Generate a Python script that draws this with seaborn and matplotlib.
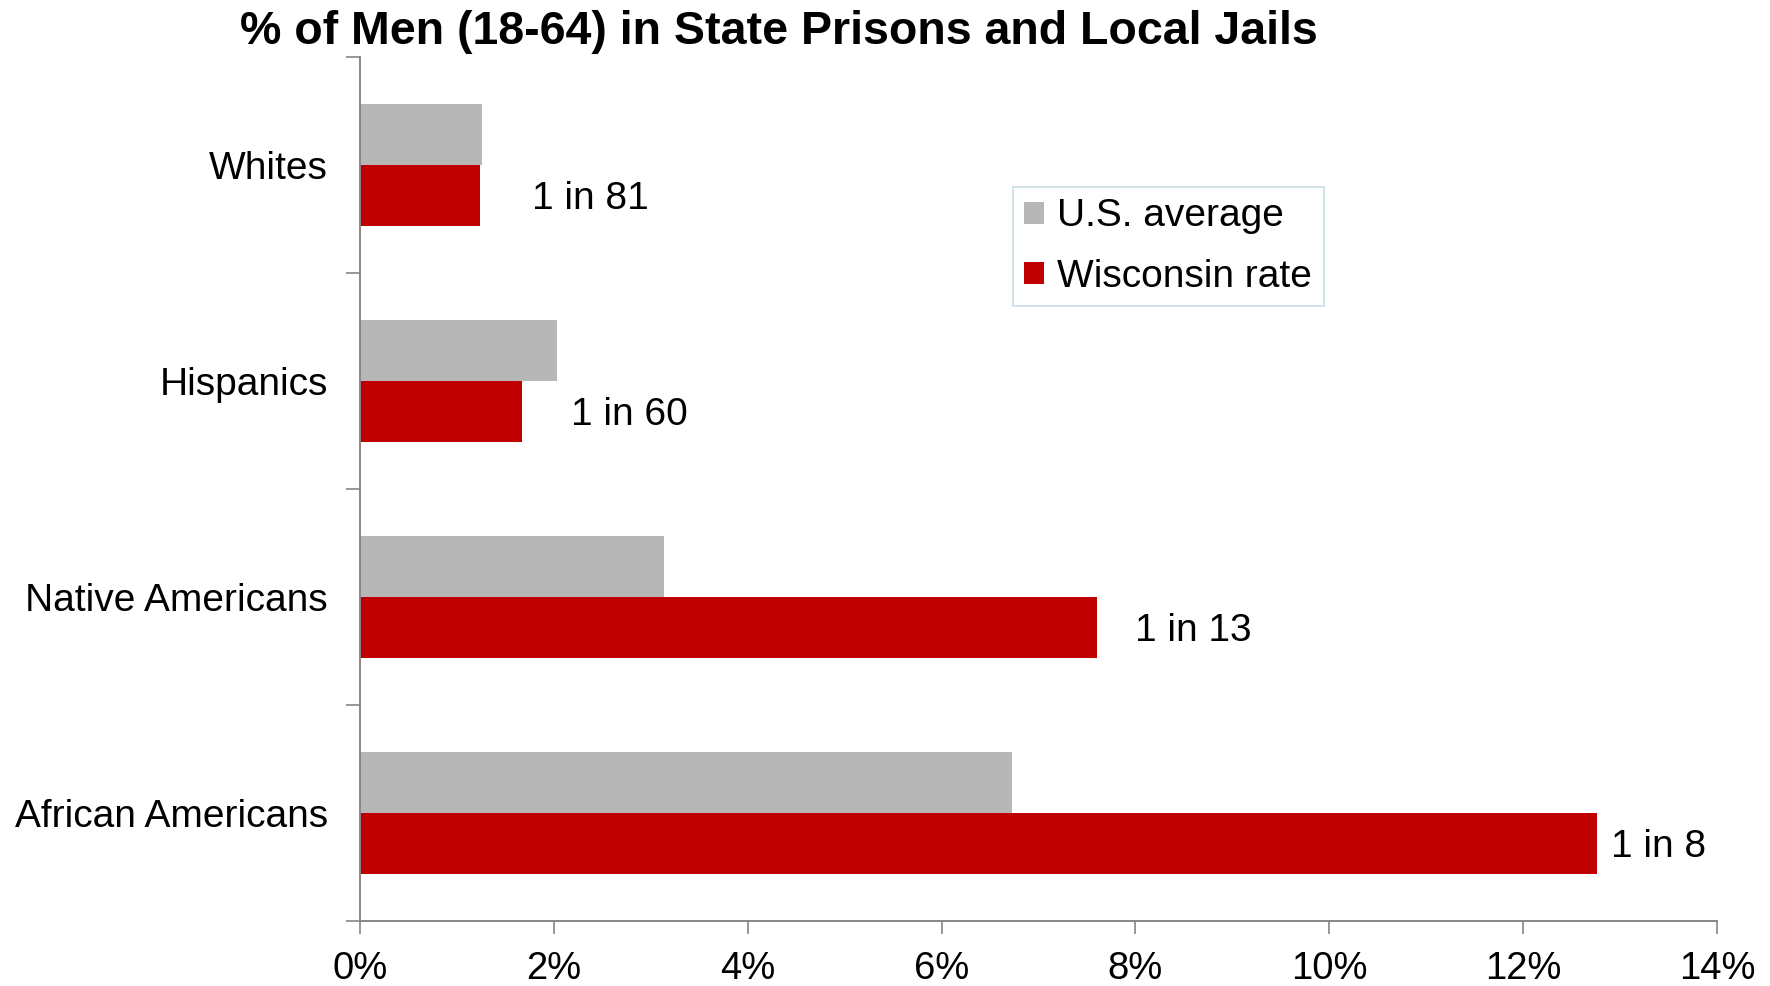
import matplotlib
matplotlib.use("Agg")
import matplotlib.pyplot as plt
from matplotlib.ticker import FixedLocator, FuncFormatter
import seaborn as sns
import pandas as pd

groups = ["Whites", "Hispanics", "Native Americans", "African Americans"]
us_average = [1.26, 2.03, 3.14, 6.73]
wisconsin_rate = [1.235, 1.667, 7.6, 12.76]
rate_labels = ["1 in 81", "1 in 60", "1 in 13", "1 in 8"]
series_names = ["U.S. average", "Wisconsin rate"]
x_ticks = [0, 2, 4, 6, 8, 10, 12, 14]

df = pd.DataFrame({
    "group": groups * 2,
    "value": us_average + wisconsin_rate,
    "series": [series_names[0]] * len(groups) + [series_names[1]] * len(groups),
})

sns.set_theme(style="white")
plt.rcParams["font.family"] = ["Liberation Sans", "DejaVu Sans"]

fig = plt.figure(figsize=(17.7, 9.86), dpi=100)
ax = fig.add_axes([0.2034, 0.066, 0.7666, 0.876])

sns.barplot(data=df, y="group", x="value", hue="series", order=groups,
            hue_order=series_names, palette=["#b7b7b7", "#c00000"],
            orient="h", width=0.5625, saturation=1, linewidth=0, ax=ax)

ax.set_xlim(0, 14)
ax.set_ylim(len(groups) - 0.5, -0.5)
ax.xaxis.set_major_locator(FixedLocator(x_ticks))
ax.xaxis.set_major_formatter(FuncFormatter(lambda v, p: f"{v:.0f}%"))
ax.set_xlabel("")
ax.set_ylabel("")

# category boundaries carry the y tick marks; labels sit at band centres
ax.yaxis.set_minor_locator(FixedLocator([i - 0.5 for i in range(len(groups) + 1)]))
ax.tick_params(axis="y", which="major", length=0, pad=23, labelsize=28, labelcolor="black")
ax.tick_params(axis="y", which="minor", length=10, width=1.2, color="#868686", left=True)
ax.tick_params(axis="x", which="major", length=9, width=1.2, color="#868686",
               bottom=True, direction="out", pad=13, labelsize=27.5, labelcolor="black")

for side in ["top", "right"]:
    ax.spines[side].set_visible(False)
for side in ["left", "bottom"]:
    ax.spines[side].set_color("#868686")
    ax.spines[side].set_linewidth(1.4)

# ratio labels next to the Wisconsin bars
label_offsets = [38, 35.5, 27.5, 10]
wis_bars = ax.containers[1]
for bar, text, off in zip(wis_bars, rate_labels, label_offsets):
    ax.annotate(text, xy=(bar.get_width(), bar.get_y() + bar.get_height() / 2),
                xytext=(off, -2.5), textcoords="offset points",
                ha="left", va="center", fontsize=28, color="black")

leg = ax.legend(loc="upper left", bbox_to_anchor=(0.481, 0.850), frameon=True,
                fontsize=28, handlelength=0.5, handleheight=0.5,
                handletextpad=0.35, borderpad=0.3, labelspacing=0.62,
                fancybox=False, borderaxespad=0, labelcolor="black")
leg.get_frame().set_edgecolor("#b9d7e0")
leg.get_frame().set_linewidth(1.2)

fig.text(0.44, 0.968, "% of Men (18-64) in State Prisons and Local Jails",
         ha="center", va="center", fontsize=33.5, fontweight="bold", color="black")

fig.savefig("out.png", dpi=100, facecolor="white")
